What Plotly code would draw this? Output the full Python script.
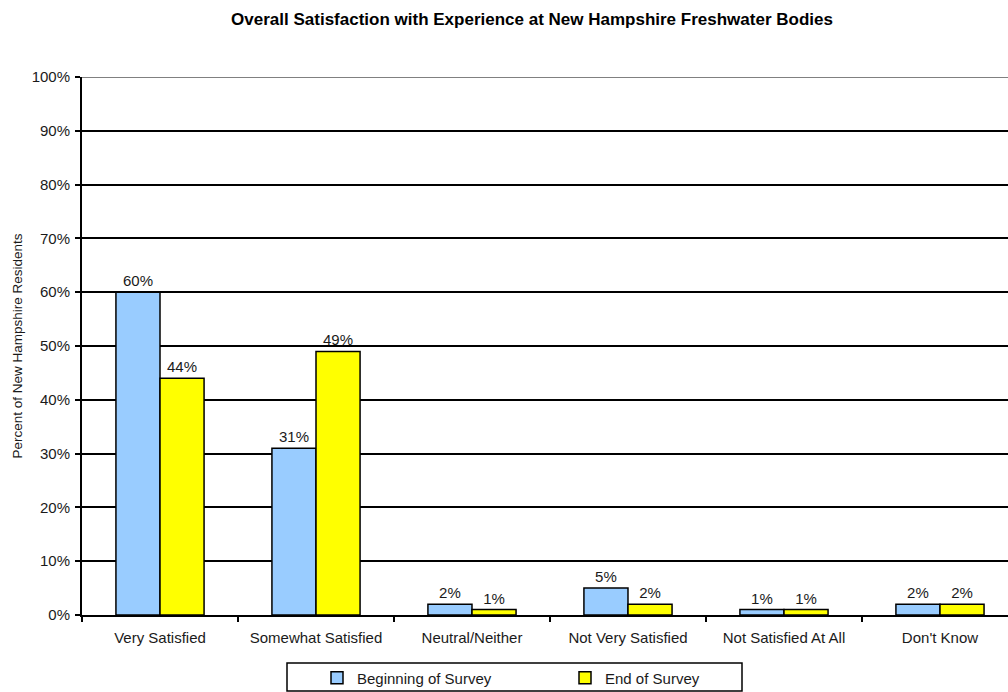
import plotly.graph_objects as go

categories = ["Very Satisfied", "Somewhat Satisfied", "Neutral/Neither",
              "Not Very Satisfied", "Not Satisfied At All", "Don't Know"]
beginning = [60, 31, 2, 5, 1, 2]
end = [44, 49, 1, 2, 1, 2]
y_ticks = [0, 10, 20, 30, 40, 50, 60, 70, 80, 90, 100]
y_tick_labels = [f"{v}%" for v in y_ticks]

FONT = "Arial, Liberation Sans, sans-serif"
TXT = "#1a1a1a"

fig = go.Figure()
fig.add_trace(go.Bar(
    x=categories, y=beginning, name="Beginning of Survey",
    marker=dict(color="#99CCFF", line=dict(color="black", width=1.5)),
    text=[f"{v}%" for v in beginning], textposition="outside",
    textfont=dict(size=15, color=TXT, family=FONT), cliponaxis=False,
))
fig.add_trace(go.Bar(
    x=categories, y=end, name="End of Survey",
    marker=dict(color="#FFFF00", line=dict(color="black", width=1.5)),
    text=[f"{v}%" for v in end], textposition="outside",
    textfont=dict(size=15, color=TXT, family=FONT), cliponaxis=False,
))

fig.update_layout(
    width=1008, height=692,
    margin=dict(l=82, r=0, t=77, b=77, autoexpand=False),
    paper_bgcolor="white", plot_bgcolor="white",
    font=dict(family=FONT, size=15, color=TXT),
    title=dict(text="<b>Overall Satisfaction with Experience at New Hampshire Freshwater Bodies</b>",
               x=532 / 1008, xanchor="center", xref="container",
               y=1 - 19 / 692, yanchor="middle",
               font=dict(size=17, color="black", family=FONT)),
    barmode="group", bargap=0.435, bargroupgap=0,
    showlegend=True,
    legend=dict(orientation="h", xref="container", yref="container",
                x=317 / 1008, xanchor="left", y=1 - 678 / 692, yanchor="middle",
                borderwidth=0, bgcolor="rgba(0,0,0,0)",
                font=dict(size=15, color=TXT, family=FONT),
                entrywidth=203, itemwidth=30, traceorder="normal"),
    shapes=[
        dict(type="line", xref="paper", yref="y", x0=0, x1=1, y0=100, y1=100,
             line=dict(color="#808080", width=2), layer="above"),
        dict(type="rect", xref="paper", yref="paper",
             x0=(287 - 82) / 926, x1=(742 - 82) / 926,
             y0=(615 - 663) / 538, y1=(615 - 691) / 538,
             line=dict(color="black", width=1.5), fillcolor="rgba(0,0,0,0)"),
    ],
)
fig.update_xaxes(
    range=[-0.5, 5.436], showline=True, linecolor="black", linewidth=2,
    ticks="outside", tickson="boundaries", ticklen=5, tickwidth=2, tickcolor="black",
    tickfont=dict(size=15, color=TXT, family=FONT), showgrid=False,
    automargin=False, ticklabelstandoff=8,
)
fig.update_yaxes(
    range=[0, 100], tickvals=y_ticks, ticktext=y_tick_labels,
    showline=True, linecolor="black", linewidth=2,
    ticks="outside", ticklen=5, tickwidth=2, tickcolor="black",
    showgrid=True, gridcolor="black", gridwidth=1.5, zeroline=False,
    tickfont=dict(size=15, color=TXT, family=FONT),
    automargin=False, ticklabelstandoff=2,
    title=dict(text="Percent of New Hampshire Residents", standoff=6,
               font=dict(size=13.5, color=TXT, family=FONT)),
)

fig.write_html("out.html", config={"displayModeBar": False},
               post_script="document.body.style.margin='0';document.body.style.overflow='hidden';")
